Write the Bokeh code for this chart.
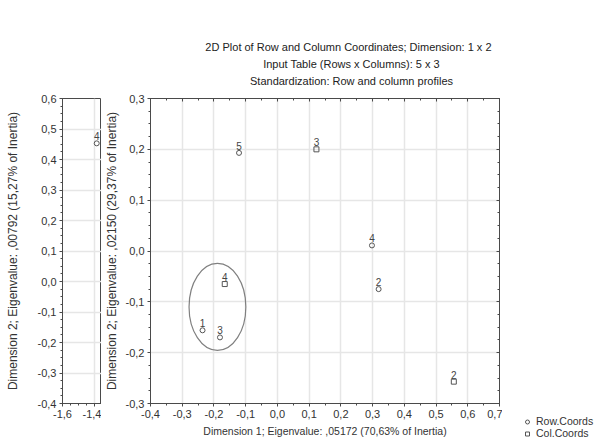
from bokeh.plotting import figure
from bokeh.models import Range1d, LinearAxis, FixedTicker, Legend, LegendItem, ColumnDataSource, Label
from bokeh.layouts import row, column
from bokeh.embed import file_html
from bokeh.resources import INLINE
from bokeh.core.properties import value

# ---------------- data ----------------
title_lines = ["2D Plot of Row and Column Coordinates; Dimension:  1 x  2",
               "Input Table (Rows x Columns): 5 x 3",
               "Standardization: Row and column profiles"]
x_label = "Dimension 1; Eigenvalue: ,05172 (70,63% of Inertia)"
y_label_main = "Dimension 2; Eigenvalue: ,02150 (29,37% of Inertia)"
y_label_left = "Dimension 2; Eigenvalue: ,00792 (15,27% of Inertia)"

row_labels = ["1", "2", "3", "4", "5"]
row_x = [-0.236, 0.319, -0.181, 0.298, -0.121]
row_y = [-0.156, -0.075, -0.170, 0.011, 0.193]

col_labels = ["2", "3", "4"]
col_x = [0.556, 0.123, -0.166]
col_y = [-0.257, 0.200, -0.065]

left_labels = ["4"]
left_x = [-1.386]
left_y = [0.453]

ellipse_x = [-0.189]
ellipse_y = [-0.110]
ellipse_w = [0.179]
ellipse_h = [0.171]

main_xticks = [-0.4, -0.3, -0.2, -0.1, 0.0, 0.1, 0.2, 0.3, 0.4, 0.5, 0.6, 0.7]
main_xtick_labels = ["-0,4", "-0,3", "-0,2", "-0,1", "0,0", "0,1", "0,2", "0,3", "0,4", "0,5", "0,6", "0,7"]
main_yticks = [-0.3, -0.2, -0.1, 0.0, 0.1, 0.2, 0.3]
main_ytick_labels = ["-0,3", "-0,2", "-0,1", "0,0", "0,1", "0,2", "0,3"]
left_xticks = [-1.6, -1.4]
left_xtick_labels = ["-1,6", "-1,4"]
left_yticks = [-0.4, -0.3, -0.2, -0.1, 0.0, 0.1, 0.2, 0.3, 0.4, 0.5, 0.6]
left_ytick_labels = ["-0,4", "-0,3", "-0,2", "-0,1", "0,0", "0,1", "0,2", "0,3", "0,4", "0,5", "0,6"]

legend_labels = ["Row.Coords", "Col.Coords"]

# ---------------- styling helpers ----------------
FONT = "Liberation Sans"
AX = "#4a4a4a"
TXT = "#333333"
GRID = "#e6e6e6"
MK = "#555555"
W = 606
H = 440
HEAD = 90
PH = H - HEAD


def minor_list(start, stop, step):
    n = int(round((stop - start) / step))
    return [round(start + i * step, 6) for i in range(n + 1)]


def style_axis(ax, ticks, labels, minors):
    ax.ticker = FixedTicker(ticks=ticks, minor_ticks=minors)
    ax.major_label_overrides = {t: l for t, l in zip(ticks, labels)}
    ax.axis_line_color = AX
    ax.major_tick_line_color = AX
    ax.minor_tick_line_color = AX
    ax.major_tick_out = 3
    ax.major_tick_in = 0
    ax.minor_tick_out = 2
    ax.minor_tick_in = 0
    ax.major_label_standoff = 3
    ax.major_label_text_font = FONT
    ax.major_label_text_font_size = "11px"
    ax.major_label_text_color = TXT
    ax.axis_label_text_font = FONT
    ax.axis_label_text_font_style = "normal"
    ax.axis_label_text_color = TXT


def frame_axis(ax, ticks, minors):
    ax.ticker = FixedTicker(ticks=ticks, minor_ticks=minors)
    ax.major_label_overrides = {t: "" for t in ticks}
    ax.major_label_text_font_size = "1px"
    ax.major_label_standoff = 0
    ax.axis_line_color = AX
    ax.major_tick_line_color = AX
    ax.minor_tick_line_color = AX
    ax.major_tick_out = 0
    ax.major_tick_in = 3
    ax.minor_tick_out = 0
    ax.minor_tick_in = 2


def blank_fig(w, h):
    f = figure(width=w, height=h, output_backend="svg", toolbar_location=None, title=None,
               x_range=Range1d(0, w), y_range=Range1d(0, h), min_border=0,
               x_axis_location=None, y_axis_location=None,
               background_fill_color="white", border_fill_color="white")
    f.frame_align = False
    f.outline_line_color = None
    f.xgrid.visible = False
    f.ygrid.visible = False
    return f


# ---------------- header (3 title lines) ----------------
head = blank_fig(W, HEAD)
title_y = [44, 27, 10]   # baseline positions inside the header strip (px from its bottom)
for line, ty in zip(title_lines, title_y):
    head.add_layout(Label(x=351, y=ty, text=line, text_align="center", text_baseline="middle",
                          text_font=FONT, text_font_size="11px", text_color="#222222"))

# ---------------- left panel ----------------
left = figure(width=101, height=PH, output_backend="svg", toolbar_location=None, title=None,
              x_range=Range1d(-1.6, -1.356), y_range=Range1d(-0.4, 0.6),
              min_border_left=62, min_border_right=0, min_border_top=8, min_border_bottom=H - 403,
              background_fill_color="white", border_fill_color="white")
left.outline_line_color = AX
style_axis(left.xaxis[0], left_xticks, left_xtick_labels, minor_list(-1.6, -1.35, 0.05))
style_axis(left.yaxis[0], left_yticks, left_ytick_labels, minor_list(-0.4, 0.6, 0.025))
left.yaxis[0].axis_label = y_label_left
left.yaxis[0].axis_label_text_font_size = "12px"
left.yaxis[0].axis_label_standoff = 15
left.xgrid.ticker = FixedTicker(ticks=left_xticks)
left.ygrid.ticker = FixedTicker(ticks=left_yticks)
left.xgrid.grid_line_color = GRID
left.ygrid.grid_line_color = GRID
left.xgrid.grid_line_width = 1.5
left.ygrid.grid_line_width = 1.5

lsrc = ColumnDataSource(dict(x=left_x, y=left_y, t=left_labels))
left.scatter("x", "y", source=lsrc, marker="circle", size=5, fill_color=None, line_color=MK)
left.text("x", "y", text="t", source=lsrc, text_align="center", text_baseline="bottom",
          y_offset=-3, text_font=value(FONT), text_font_size="10px", text_color="#444444")

# ---------------- main panel ----------------
p = figure(width=401, height=PH, output_backend="svg", toolbar_location=None, title=None,
           x_range=Range1d(-0.4, 0.7), y_range=Range1d(-0.3, 0.3),
           min_border_left=49, min_border_right=3, min_border_top=7, min_border_bottom=H - 406,
           background_fill_color="white", border_fill_color="white")
p.outline_line_color = AX

style_axis(p.xaxis[0], main_xticks, main_xtick_labels, minor_list(-0.4, 0.7, 0.05))
style_axis(p.yaxis[0], main_yticks, main_ytick_labels, minor_list(-0.3, 0.3, 0.025))
p.xaxis[0].axis_label = x_label
p.xaxis[0].axis_label_text_font_size = "10.5px"
p.xaxis[0].axis_label_standoff = 4
p.yaxis[0].axis_label = y_label_main
p.yaxis[0].axis_label_text_font_size = "12px"
p.yaxis[0].axis_label_standoff = 4

top_ax = LinearAxis()
frame_axis(top_ax, main_xticks, minor_list(-0.4, 0.7, 0.05))
p.add_layout(top_ax, "above")
right_ax = LinearAxis()
frame_axis(right_ax, main_yticks, minor_list(-0.3, 0.3, 0.025))
p.add_layout(right_ax, "right")

p.xgrid.ticker = FixedTicker(ticks=main_xticks)
p.ygrid.ticker = FixedTicker(ticks=main_yticks)
p.xgrid.grid_line_color = GRID
p.ygrid.grid_line_color = GRID
p.xgrid.grid_line_width = 1.5
p.ygrid.grid_line_width = 1.5

p.ellipse(x=ellipse_x, y=ellipse_y, width=ellipse_w, height=ellipse_h,
          fill_color=None, line_color="#808080", line_width=1.2)

rsrc = ColumnDataSource(dict(x=row_x, y=row_y, t=row_labels))
csrc = ColumnDataSource(dict(x=col_x, y=col_y, t=col_labels))
p.scatter("x", "y", source=rsrc, marker="circle", size=5, fill_color=None, line_color=MK)
p.scatter("x", "y", source=csrc, marker="square", size=5, fill_color=None, line_color=MK)
for src in (rsrc, csrc):
    p.text("x", "y", text="t", source=src, text_align="center", text_baseline="bottom",
           y_offset=-3, text_font=value(FONT), text_font_size="10px", text_color="#444444")

# ---------------- legend panel ----------------
lg = blank_fig(W - 101 - 401, PH)
# legend swatches only: points placed outside the visible range
swatch = ColumnDataSource(dict(x=[-50.0], y=[-50.0]))
g_row = lg.scatter("x", "y", source=swatch, marker="circle", size=5, fill_color=None, line_color=MK)
g_col = lg.scatter("x", "y", source=swatch, marker="square", size=5, fill_color=None, line_color=MK)
legend = Legend(items=[LegendItem(label=legend_labels[0], renderers=[g_row]),
                       LegendItem(label=legend_labels[1], renderers=[g_col])],
                location=(20, 1), orientation="vertical")
legend.border_line_color = None
legend.background_fill_alpha = 0
legend.padding = 0
legend.margin = 0
legend.spacing = 0
legend.glyph_width = 10
legend.glyph_height = 11
legend.label_height = 11
legend.label_standoff = 4
legend.label_text_font = FONT
legend.label_text_font_size = "10.5px"
legend.label_text_color = TXT
lg.add_layout(legend, "center")

layout = column(head, row(left, p, lg))
open("out.html", "w").write(file_html(layout, INLINE))
